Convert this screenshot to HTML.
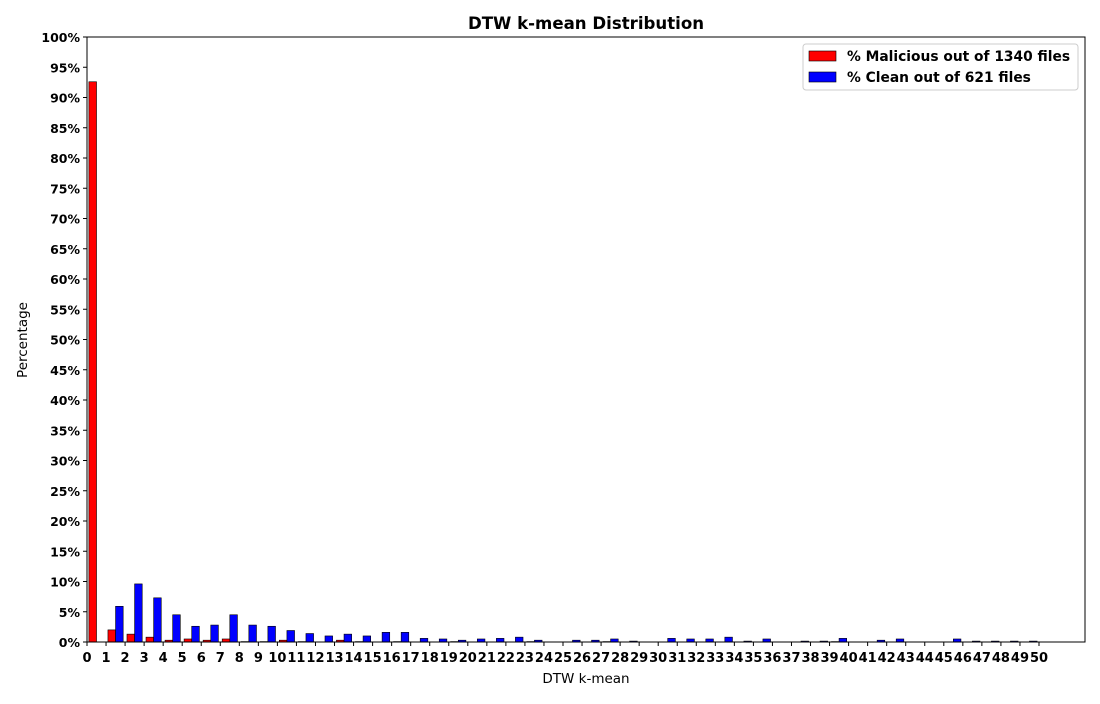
<!DOCTYPE html>
<html><head><meta charset="utf-8"><style>
body{margin:0;background:#fff;font-family:"DejaVu Sans",sans-serif}
</style></head><body>
<svg id="chart" width="1100" height="700" xmlns="http://www.w3.org/2000/svg" font-family="DejaVu Sans, sans-serif"></svg>
<script>
const categories = Array.from({length:50},(_,i)=>i);
const maliciousValues = [92.6,2.0,1.3,0.8,0.3,0.5,0.3,0.5,0.07,0.07,0.3,0.07,0,0.3,0.07,0,0.07,0,0,0.07,0,0,0,0.07,0,0,0,0.07,0,0,0,0,0,0,0,0,0,0,0,0.07,0,0,0,0,0,0,0,0,0,0];
const cleanValues = [0,5.9,9.6,7.3,4.5,2.6,2.8,4.5,2.8,2.6,1.9,1.4,1.0,1.3,1.0,1.6,1.6,0.6,0.5,0.3,0.5,0.6,0.8,0.3,0,0.3,0.3,0.5,0.15,0,0.6,0.5,0.5,0.8,0.15,0.5,0,0.15,0.15,0.6,0,0.3,0.5,0,0,0.5,0.15,0.15,0.15,0.15];
const yTicks = Array.from({length:21},(_,i)=>i*5);
const legendLabels = ["% Malicious out of 1340 files","% Clean out of 621 files"];

const NS="http://www.w3.org/2000/svg";
const svg=document.getElementById('chart');
const L=87,R=1085,T=37,B=642;
const xs=v=>L+v*19.04;
const ys=v=>B-(v/100)*(B-T);
function mk(tag,attrs,parent){const e=document.createElementNS(NS,tag);for(const k in attrs)e.setAttribute(k,attrs[k]);(parent||svg).appendChild(e);return e;}

const title=mk('text',{x:586,y:29,'text-anchor':'middle','font-size':16.6,'font-weight':'bold'});
title.textContent='DTW k-mean Distribution';



categories.forEach((c,i)=>{
  const r=mk('rect',{x:xs(c+0.1),y:ys(maliciousValues[i]),width:xs(0.4)-L,height:B-ys(maliciousValues[i]),fill:'#ff0000',stroke:'#000','stroke-width':0.6});
  
  
  const b=mk('rect',{x:xs(c+0.5),y:ys(cleanValues[i]),width:xs(0.4)-L,height:B-ys(cleanValues[i]),fill:'#0000ff',stroke:'#000','stroke-width':0.6});
  
  
});

const frame=mk('rect',{x:L,y:T,width:R-L,height:B-T,fill:'none',stroke:'#000','stroke-width':1});



yTicks.forEach(t=>{
  mk('line',{x1:L-4,x2:L,y1:ys(t),y2:ys(t),stroke:'#000'});
  const tx=mk('text',{x:L-7,y:ys(t)+5,'text-anchor':'end','font-size':12.5,'font-weight':'bold'});
  tx.textContent=t+'%';
  
  
});
for(let i=0;i<=50;i++){
  mk('line',{x1:xs(i),x2:xs(i),y1:B,y2:B+4,stroke:'#000'});
  const tx=mk('text',{x:xs(i),y:B+20,'text-anchor':'middle','font-size':13,'font-weight':'bold'});
  tx.textContent=i;
  
  
}
const xt=mk('text',{x:586,y:683,'text-anchor':'middle','font-size':13.5});
xt.textContent='DTW k-mean';


const yt=mk('text',{x:27,y:340,'text-anchor':'middle','font-size':13.5,transform:'rotate(-90 27 340)'});
yt.textContent='Percentage';



const lg=mk('g',{});


mk('rect',{x:803,y:44,width:275,height:46,fill:'#fff',stroke:'#ccc',rx:3},lg);
['#ff0000','#0000ff'].forEach((c,i)=>{
  mk('rect',{x:809,y:51+i*21,width:27,height:10,fill:c,stroke:'#000','stroke-width':0.6},lg);
  const t=mk('text',{x:847,y:61+i*21,'font-size':13.8,'font-weight':'bold'},lg);
  t.textContent=legendLabels[i];
  
  
});
</script>
</body></html>
